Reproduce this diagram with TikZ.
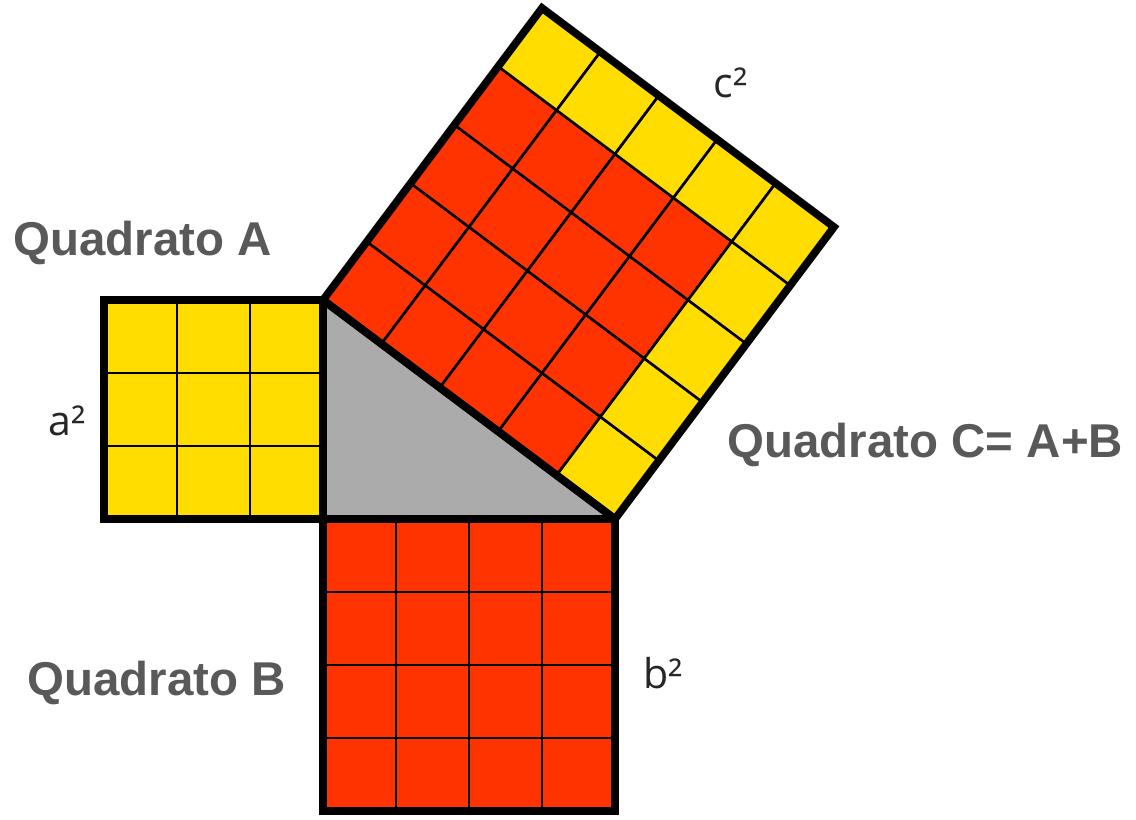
\documentclass[tikz,border=0pt]{standalone}
\usepackage{fontspec}
\setmainfont{Liberation Sans}
\newfontfamily\espfont{Open Sans}
\definecolor{giallo}{HTML}{FFDD00}
\definecolor{rosso}{HTML}{FF3300}
\definecolor{grigio}{HTML}{ABABAB}
\definecolor{scritta}{HTML}{595959}

\begin{document}
\begin{tikzpicture}[x=1cm, y=1cm,
    cella/.style={draw=black, line width=1pt},
    bordo/.style={draw=black, line width=3pt, line join=miter},
    titolo/.style={text=scritta, font=\bfseries\fontsize{18.5}{22}\selectfont, inner sep=0pt, anchor=base west},
    esponente/.style={text=black!85, font=\espfont\fontsize{16}{19}\selectfont, inner sep=0pt, anchor=base west}]
    \useasboundingbox (-4.425,-4.11) rectangle (11.137,7.11);
    \fill[grigio] (0,0) -- (0,3) -- (4,0) -- cycle;
    \foreach \ii in {-3,-2,-1}{
      \foreach \jj in {0,1,2}{
        \path[cella, fill=giallo] (\ii,\jj) rectangle ++(1,1);
      }
    }
    \foreach \ii in {0,1,2,3}{
      \foreach \jj in {-4,-3,-2,-1}{
        \path[cella, fill=rosso] (\ii,\jj) rectangle ++(1,1);
      }
    }
    \begin{scope}[shift={(0,3)}, x={(0.8cm,-0.6cm)}, y={(0.6cm,0.8cm)}]
      \foreach \ii in {0,1,2,3,4}{
        \foreach \jj in {0,1,2,3,4}{
          \pgfmathsetmacro{\nn}{int(max(\ii,\jj))}
          \ifnum\nn=4 \def\tinta{giallo}\else\def\tinta{rosso}\fi
          \path[cella, fill=\tinta] (\ii,\jj) -- ++(1,0) -- ++(0,1) -- ++(-1,0) -- cycle;
        }
      }
      \draw[bordo] (0,0) -- (5,0) -- (5,5) -- (0,5) -- cycle;
    \end{scope}
    \draw[bordo] (-3,0) rectangle (0,3);
    \draw[bordo] (0,-4) rectangle (4,0);
    \draw[bordo, line join=round] (0,0) -- (0,3) -- (4,0) -- cycle;

    \node[titolo] (quadA) at (-4.247,3.616) {Quadrato A};
    \node[titolo] (quadB) at (-4.055,-2.411) {Quadrato B};
    \node[titolo] (quadC) at (5.534,0.849) {Quadrato C= A+B};
    \node[esponente] (espA) at (-3.767,1.151) {a²};
    \node[esponente] (espB) at (4.384,-2.315) {b²};
    \node[esponente] (espC) at (5.342,5.781) {c²};
  \end{tikzpicture}
\end{document}
